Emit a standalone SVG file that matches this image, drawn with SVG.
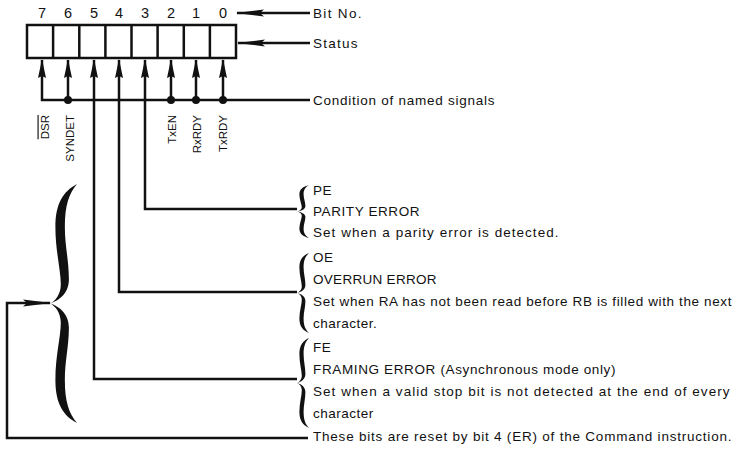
<svg xmlns="http://www.w3.org/2000/svg" width="737" height="452" viewBox="0 0 737 452">
<style>
text{font-family:"Liberation Sans",Arial,sans-serif;fill:#111;}
.t{font-size:13.5px;letter-spacing:0.5px;}
.n{font-size:14.5px;text-anchor:middle;}
.v{font-size:11.5px;text-anchor:end;}
.ln{fill:none;stroke:#111;stroke-width:2.5;}
.cell{fill:#fff;stroke:#111;stroke-width:2.5;}
.br{fill:#111;}
</style>
<defs>
<marker id="up" markerUnits="userSpaceOnUse" viewBox="0 0 19 8" markerWidth="19" markerHeight="8" refX="18" refY="4" orient="auto">
<path d="M0,0 L19,4 L0,8 L2,4 Z" fill="#111"/>
</marker>
<marker id="lh" markerUnits="userSpaceOnUse" viewBox="0 0 28 8" markerWidth="28" markerHeight="8" refX="27" refY="4" orient="auto">
<path d="M0,0.6 L28,4 L0,7.4 L4,4 Z" fill="#111"/>
</marker>
<path id="brace" d="M10,0 C5,3 2,8 2,18 C2,28 4,36 4,42 C4,46 2,49 0,50 C2,51 4,54 4,58 C4,64 2,72 2,82 C2,92 5,97 10,100 C7,96 5.5,91 5.5,82 C5.5,74 7,68 7,60 C7,54 3,51 0,50 C3,49 7,46 7,40 C7,32 5.5,26 5.5,18 C5.5,9 7,4 10,0 Z"/>
</defs>

<g id="register">
<rect x="27" y="25" width="209" height="33" class="cell" stroke-width="3"/>
<path class="ln" d="M53.1,25V58M79.3,25V58M105.4,25V58M131.5,25V58M157.6,25V58M183.8,25V58M209.9,25V58"/>
<text class="n" x="42" y="18">7</text>
<text class="n" x="68" y="18">6</text>
<text class="n" x="94" y="18">5</text>
<text class="n" x="119" y="18">4</text>
<text class="n" x="145" y="18">3</text>
<text class="n" x="171" y="18">2</text>
<text class="n" x="196" y="18">1</text>
<text class="n" x="223" y="18">0</text>
</g>

<g id="bitno-label"><text class="t" x="313" y="18" textLength="49">Bit No.</text></g>
<g id="status-label"><text class="t" x="313" y="48" textLength="45">Status</text></g>
<g id="condition-label"><text class="t" x="313" y="105" textLength="182">Condition of named signals</text></g>

<g id="signal-names">
<text class="v" transform="translate(48.5,115) rotate(-90)" text-decoration="overline">DSR</text>
<text class="v" transform="translate(73.5,115) rotate(-90)">SYNDET</text>
<text class="v" transform="translate(176,115) rotate(-90)">TxEN</text>
<text class="v" transform="translate(200.5,115) rotate(-90)">RxRDY</text>
<text class="v" transform="translate(227,115) rotate(-90)">TxRDY</text>
</g>

<g id="pe">
<use href="#brace" class="br" transform="translate(297,185) scale(1.2,0.53)"/>
<text class="t" x="313" y="195">PE</text>
<text class="t" x="313" y="216" textLength="107">PARITY ERROR</text>
<text class="t" x="313" y="237" textLength="246">Set when a parity error is detected.</text>
</g>

<g id="oe">
<use href="#brace" class="br" transform="translate(297,253) scale(1.2,0.80)"/>
<text class="t" x="313" y="262">OE</text>
<text class="t" x="313" y="284" textLength="124">OVERRUN ERROR</text>
<text class="t" x="313" y="306" textLength="419">Set when RA has not been read before RB is filled with the next</text>
<text class="t" x="313" y="328">character.</text>
</g>

<g id="fe">
<use href="#brace" class="br" transform="translate(297,338) scale(1.2,0.90)"/>
<text class="t" x="313" y="352">FE</text>
<text class="t" x="313" y="374" textLength="303">FRAMING ERROR (Asynchronous mode only)</text>
<text class="t" x="313" y="396" textLength="417">Set when a valid stop bit is not detected at the end of every</text>
<text class="t" x="313" y="418">character</text>
</g>

<g id="group-brace">
<use href="#brace" class="br" transform="translate(50,184) scale(2.7,2.39)"/>
</g>

<g id="reset-label"><text class="t" x="313" y="441" textLength="419">These bits are reset by bit 4 (ER) of the Command instruction.</text></g>

<g id="connectors">
<path class="ln" d="M310,13H237" marker-end="url(#lh)"/>
<path class="ln" d="M310,43H238" marker-end="url(#lh)"/>
<path class="ln" d="M310,100H42V60" marker-end="url(#up)"/>
<path class="ln" d="M68,100V60" marker-end="url(#up)"/>
<path class="ln" d="M171,100V60" marker-end="url(#up)"/>
<path class="ln" d="M196,100V60" marker-end="url(#up)"/>
<path class="ln" d="M223,100V60" marker-end="url(#up)"/>
<path class="ln" d="M297,209H145V60" marker-end="url(#up)"/>
<path class="ln" d="M297,292H119V60" marker-end="url(#up)"/>
<path class="ln" d="M297,379H94V60" marker-end="url(#up)"/>
<circle cx="68" cy="100" r="4" fill="#111"/>
<circle cx="171" cy="100" r="4" fill="#111"/>
<circle cx="196" cy="100" r="4" fill="#111"/>
<circle cx="223" cy="100" r="4" fill="#111"/>
<path class="ln" d="M308,438H7V303H50" marker-end="url(#lh)"/>
</g>
</svg>
